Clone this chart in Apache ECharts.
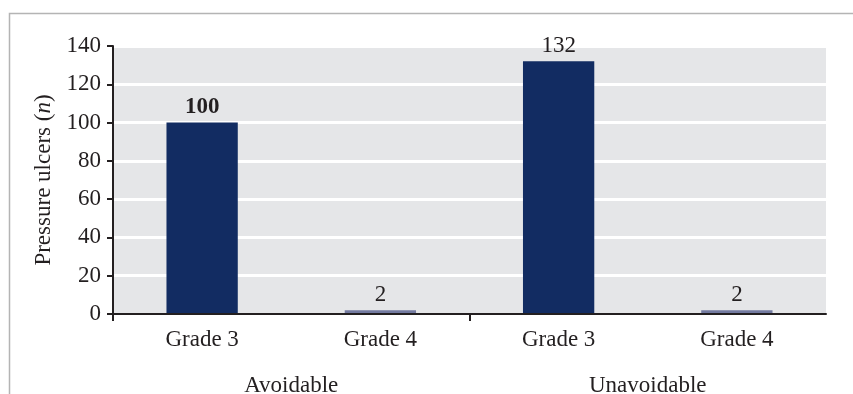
<!DOCTYPE html>
<html>
<head>
<meta charset="utf-8">
<style>
  html, body { margin: 0; padding: 0; background: #ffffff; }
  #chart { width: 853px; height: 394px; }
</style>
<script src="https://cdn.jsdelivr.net/npm/echarts@6/dist/echarts.min.js"></script>
</head>
<body>
<div id="chart"></div>
<script>
// Pressure ulcer counts by grade, split into avoidable and unavoidable
const grades = ['Grade 3', 'Grade 4', 'Grade 3', 'Grade 4'];
const groups = ['Avoidable', 'Unavoidable'];
const counts = [100, 2, 132, 2];
const boldLabel = [true, false, false, false];
const yTicks = [0, 20, 40, 60, 80, 100, 120, 140];

const FONT = '"Liberation Serif", "DejaVu Serif", serif';
const INK = '#231f20';
const FS = 23;
const gradeColors = { 'Grade 3': '#122c62', 'Grade 4': '#737aa0' };

const chart = echarts.init(document.getElementById('chart'), null, { renderer: 'canvas' });

chart.setOption({
  animation: false,
  backgroundColor: '#ffffff',
  textStyle: { fontFamily: FONT, color: INK },
  graphic: [
    {
      type: 'polyline',
      shape: { points: [[9.5, 394], [9.5, 13.5], [853, 13.5]] },
      style: { stroke: '#b4b4b4', lineWidth: 1.5, fill: null },
      silent: true
    }
  ],
  grid: {
    left: 113, right: 27, top: 46, bottom: 80,
    outerBoundsMode: 'none',
    containLabel: false,
    show: true, backgroundColor: '#e5e6e8', borderWidth: 0
  },
  xAxis: [
    {
      // grade labels under each bar
      type: 'category',
      data: grades,
      position: 'bottom',
      axisLine: { show: false },
      axisTick: { show: false },
      axisLabel: { fontFamily: FONT, fontSize: FS, color: INK, margin: 14 },
      z: 5
    },
    {
      // group labels under each pair of bars
      type: 'category',
      data: groups,
      position: 'bottom',
      axisLine: { show: false },
      axisTick: { show: false },
      axisLabel: { fontFamily: FONT, fontSize: FS, color: INK, margin: 60 },
      z: 5
    },
    {
      // baseline with separators at the start of each group
      type: 'value',
      min: 0,
      max: groups.length,
      position: 'bottom',
      axisLine: { show: true, lineStyle: { color: INK, width: 2 } },
      axisTick: {
        show: true, length: 7, inside: false,
        lineStyle: { color: INK, width: 2 },
        customValues: groups.map((g, i) => i)
      },
      axisLabel: { show: false },
      splitLine: { show: false },
      z: 6
    }
  ],
  yAxis: {
    type: 'value',
    min: yTicks[0],
    max: yTicks[yTicks.length - 1],
    interval: yTicks[1] - yTicks[0],
    name: '{r|Pressure ulcers (}{i|n}{r|)}',
    nameLocation: 'middle',
    nameRotate: 90,
    nameGap: 53,
    nameTextStyle: {
      rich: {
        r: { fontFamily: FONT, fontSize: FS, color: INK },
        i: { fontFamily: FONT, fontSize: FS, color: INK, fontStyle: 'italic' }
      }
    },
    axisLine: { show: true, lineStyle: { color: INK, width: 2 } },
    axisTick: { show: true, length: 6, lineStyle: { color: INK, width: 2 } },
    axisLabel: { fontFamily: FONT, fontSize: FS, color: INK, margin: 12 },
    splitLine: { show: true, lineStyle: { color: '#ffffff', width: 3 } }
  },
  series: [
    {
      type: 'bar',
      xAxisIndex: 0,
      barWidth: '40%',
      data: counts.map((v, i) => ({
        value: v,
        itemStyle: { color: gradeColors[grades[i]] },
        label: { fontWeight: boldLabel[i] ? 'bold' : 'normal' }
      })),
      label: {
        show: true,
        position: 'top',
        distance: 4,
        fontFamily: FONT,
        fontSize: FS,
        color: INK
      }
    }
  ]
});
</script>
</body>
</html>
